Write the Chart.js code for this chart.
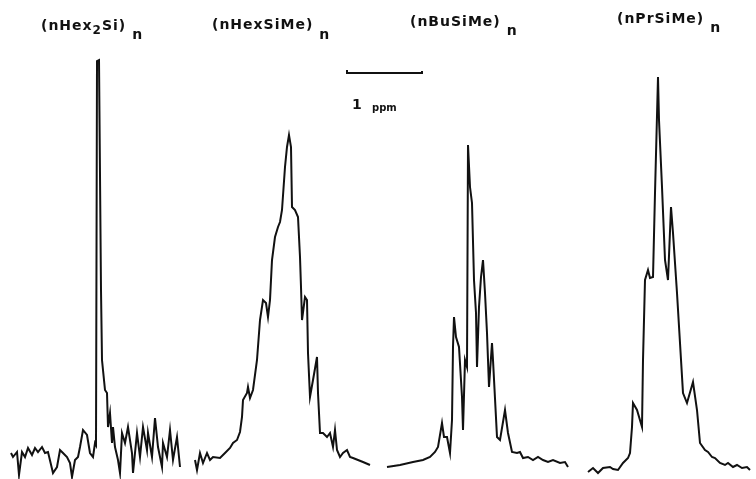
<!DOCTYPE html>
<html>
<head>
<meta charset="utf-8">
<script src="https://cdn.jsdelivr.net/npm/chart.js@4/dist/chart.umd.min.js"></script>
<style>
  body { margin: 0; background: #fff; }
  #wrap { width: 756px; height: 479px; position: relative; }
</style>
</head>
<body>
<div id="wrap"><canvas id="nmrChart"></canvas></div>
<script>
// 29Si spectra, each trace on a shared position axis (chart units) with intensity up
const hex2Shift = [11,13,17,19,22,25,28,32,35,38,42,45,48,53,57,60,63,67,70,72,75,78,80,83,87,90,93,95,96,97,99,101,102,105,107,108,110,112,113,115,118,120,122,125,128,132,133,137,140,143,147,148,152,155,158,162,163,167,170,173,177,180];
const hex2Int   = [26,22,27,4,27,22,31,24,31,27,32,26,27,6,12,29,26,22,16,2,19,22,32,49,44,26,22,36,34,418,419,189,119,89,86,52,66,36,52,32,19,6,46,36,52,26,6,46,22,52,29,46,22,61,32,12,36,22,49,19,42,12];

const hexMeShift = [195,197,200,203,207,210,213,220,225,230,233,237,240,242,243,247,248,250,253,257,260,263,266,268,270,272,275,278,280,282,285,287,289,291,292,295,298,300,301,302,305,307,308,310,313,317,318,320,323,327,330,333,335,337,340,343,347,350,353,358,363,370];
const hexMeInt   = [19,9,26,16,26,19,22,21,26,31,36,39,47,62,79,86,92,81,89,119,159,179,176,162,179,219,242,252,257,269,312,332,344,332,272,269,262,222,192,159,182,179,126,82,99,122,86,46,46,42,46,32,49,29,22,26,29,22,21,19,17,14];

const buMeShift = [387,400,413,423,430,435,438,442,444,447,450,452,453,454,456,459,462,463,465,467,468,470,472,474,476,477,479,481,483,485,487,489,492,493,497,500,505,508,512,517,520,523,528,533,538,543,548,553,560,565,568];
const buMeInt   = [12,14,17,19,22,27,32,56,42,42,26,59,132,162,142,132,82,49,119,112,334,292,276,199,166,112,172,202,219,186,146,92,136,119,42,39,69,46,27,26,27,21,22,19,22,19,17,19,16,17,12];

const prMeShift = [588,593,598,603,610,613,618,623,628,630,632,633,637,642,643,645,648,650,653,655,658,659,662,665,668,671,673,677,680,683,687,693,697,700,705,708,712,715,720,725,728,733,737,742,747,750];
const prMeInt   = [7,11,6,11,12,10,9,16,21,26,52,76,69,52,119,199,209,201,202,286,402,359,292,219,199,272,246,186,136,86,76,97,69,36,29,27,22,21,16,14,16,12,14,11,12,9];

const traceNames = ["(nHex2Si)n", "(nHexSiMe)n", "(nBuSiMe)n", "(nPrSiMe)n"];

function toPoints(xs, ys) {
  return xs.map((x, i) => ({ x: x, y: ys[i] }));
}

const lineStyle = {
  borderColor: "#111",
  borderWidth: 2,
  pointRadius: 0,
  tension: 0,
  fill: false
};

// labels with subscripts and the 1 ppm scale bar
const annotations = {
  id: "annotations",
  afterDraw(chart) {
    const ctx = chart.ctx;
    const xs = chart.scales.x, ys = chart.scales.y;
    ctx.save();
    ctx.fillStyle = "#111";
    ctx.textBaseline = "alphabetic";
    ctx.letterSpacing = "1px";

    function label(parts, x, y) {
      let cx = x;
      parts.forEach(p => {
        ctx.font = "bold " + p.size + "px 'DejaVu Sans'";
        ctx.fillText(p.t, cx, y + p.dy);
        cx += ctx.measureText(p.t).width + (p.gap || 0);
      });
    }
    label([{t: "(nHex", size: 14, dy: 0}, {t: "2", size: 12, dy: 4}, {t: "Si)", size: 14, dy: 0, gap: 6}, {t: "n", size: 14, dy: 9}], 41, 30);
    label([{t: "(nHexSiMe)", size: 14, dy: 0, gap: 6}, {t: "n", size: 14, dy: 10}], 212, 29);
    label([{t: "(nBuSiMe)", size: 14, dy: 0, gap: 6}, {t: "n", size: 14, dy: 9}], 410, 26);
    label([{t: "(nPrSiMe)", size: 14, dy: 0, gap: 6}, {t: "n", size: 14, dy: 9}], 617, 23);

    // scale bar: 1 ppm
    const x0 = xs.getPixelForValue(347), x1 = xs.getPixelForValue(422);
    const yb = ys.getPixelForValue(406);
    ctx.strokeStyle = "#111";
    ctx.lineWidth = 2;
    ctx.beginPath();
    ctx.moveTo(x0, yb - 3);
    ctx.lineTo(x0, yb);
    ctx.lineTo(x1, yb);
    ctx.lineTo(x1, yb - 2);
    ctx.stroke();
    ctx.letterSpacing = "0px";
    ctx.font = "bold 14px 'DejaVu Sans'";
    ctx.fillText("1", 352, 109);
    ctx.font = "bold 10px 'DejaVu Sans'";
    ctx.fillText("ppm", 372, 111);
    ctx.restore();
  }
};

new Chart(document.getElementById("nmrChart"), {
  type: "line",
  data: {
    datasets: [
      Object.assign({ label: traceNames[0], data: toPoints(hex2Shift, hex2Int) }, lineStyle),
      Object.assign({ label: traceNames[1], data: toPoints(hexMeShift, hexMeInt) }, lineStyle),
      Object.assign({ label: traceNames[2], data: toPoints(buMeShift, buMeInt) }, lineStyle),
      Object.assign({ label: traceNames[3], data: toPoints(prMeShift, prMeInt) }, lineStyle)
    ]
  },
  options: {
    responsive: true,
    maintainAspectRatio: false,
    animation: false,
    layout: { padding: 0 },
    plugins: { legend: { display: false }, tooltip: { enabled: false } },
    scales: {
      x: { type: "linear", min: 0, max: 756, display: false },
      y: { type: "linear", min: 0, max: 479, display: false }
    }
  },
  plugins: [annotations]
});
</script>
</body>
</html>
